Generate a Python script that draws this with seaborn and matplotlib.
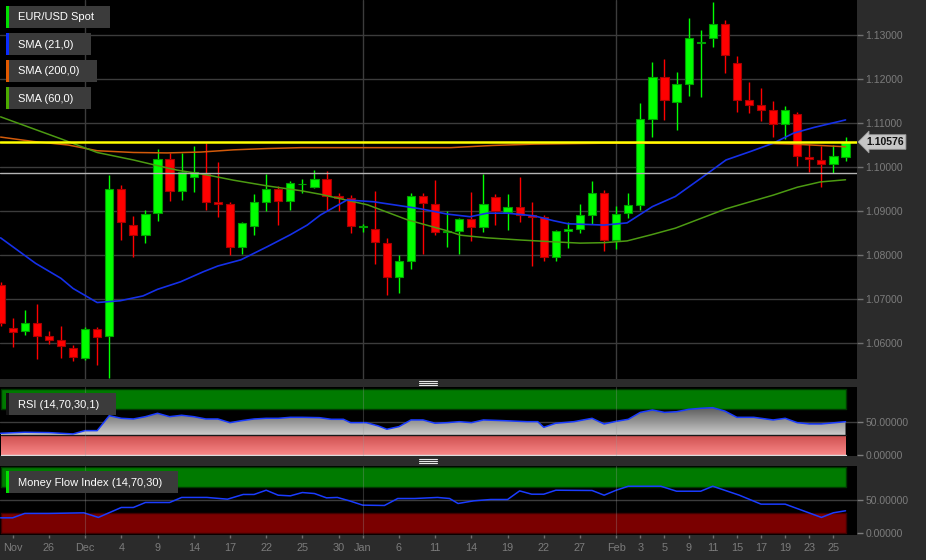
import numpy as np
import pandas as pd
import matplotlib
matplotlib.use("Agg")
import matplotlib.pyplot as plt
import seaborn as sns
from matplotlib.patches import Rectangle
from matplotlib.lines import Line2D
from matplotlib.colors import LinearSegmentedColormap

# EUR/USD daily candles, Nov 20 2015 .. Feb 26 2016 (one entry per trading day)
opens = [1.0732, 1.0634, 1.0627, 1.0645, 1.0616, 1.0606, 1.0588, 1.0567, 1.0631, 1.0617,
         1.0949, 1.0868, 1.0846, 1.0895, 1.1018, 1.0946, 1.0978, 1.0983, 1.0920, 1.0917,
         1.0818, 1.0867, 1.0921, 1.0950, 1.0923, 1.0961, 1.0954, 1.0972, 1.0934, 1.0929,
         1.0864, 1.0859, 1.0828, 1.0749, 1.0787, 1.0933, 1.0917, 1.0852, 1.0855, 1.0881,
         1.0864, 1.0931, 1.0898, 1.0910, 1.0890, 1.0886, 1.0795, 1.0855, 1.0858, 1.0890,
         1.0940, 1.0834, 1.0895, 1.0914, 1.1108, 1.1205, 1.1148, 1.1189, 1.1281, 1.1294,
         1.1324, 1.1237, 1.1152, 1.1141, 1.1129, 1.1098, 1.1121, 1.1023, 1.1017, 1.1006,
         1.1023]
highs = [1.0739, 1.0656, 1.0675, 1.0689, 1.0627, 1.0639, 1.0596, 1.0636, 1.0636, 1.0982,
         1.0959, 1.0889, 1.0902, 1.1042, 1.1031, 1.1031, 1.1048, 1.1055, 1.1012, 1.0920,
         1.0876, 1.0939, 1.0984, 1.0957, 1.0968, 1.0972, 1.0993, 1.0991, 1.0942, 1.0936,
         1.0870, 1.0945, 1.0838, 1.0800, 1.0942, 1.0942, 1.0970, 1.0900, 1.0885, 1.0944,
         1.0984, 1.0939, 1.0939, 1.0977, 1.0920, 1.0891, 1.0857, 1.0874, 1.0916, 1.0968,
         1.0948, 1.0911, 1.0942, 1.1146, 1.1239, 1.1245, 1.1216, 1.1339, 1.1311, 1.1376,
         1.1334, 1.1252, 1.1193, 1.1180, 1.1150, 1.1139, 1.1126, 1.1052, 1.1048, 1.1050,
         1.1069]
lows = [1.0639, 1.0592, 1.0618, 1.0564, 1.0598, 1.0567, 1.0558, 1.0561, 1.0550, 1.0521,
        1.0834, 1.0796, 1.0828, 1.0878, 1.0923, 1.0925, 1.0944, 1.0902, 1.0887, 1.0800,
        1.0802, 1.0845, 1.0900, 1.0868, 1.0902, 1.0942, 1.0953, 1.0900, 1.0900, 1.0851,
        1.0853, 1.0780, 1.0709, 1.0714, 1.0768, 1.0802, 1.0845, 1.0819, 1.0802, 1.0832,
        1.0853, 1.0868, 1.0857, 1.0876, 1.0776, 1.0787, 1.0787, 1.0817, 1.0849, 1.0870,
        1.0810, 1.0814, 1.0885, 1.0902, 1.1069, 1.1107, 1.1084, 1.1161, 1.1160, 1.1273,
        1.1213, 1.1126, 1.1123, 1.1105, 1.1069, 1.1063, 1.1003, 1.0989, 1.0955, 1.0987,
        1.1014]
closes = [1.0646, 1.0626, 1.0645, 1.0617, 1.0607, 1.0594, 1.0568, 1.0631, 1.0614, 1.0949,
          1.0874, 1.0846, 1.0893, 1.1018, 1.0946, 1.0988, 1.0988, 1.0921, 1.0917, 1.0818,
          1.0872, 1.0920, 1.0949, 1.0923, 1.0963, 1.0962, 1.0972, 1.0935, 1.0930, 1.0866,
          1.0865, 1.0829, 1.0751, 1.0786, 1.0933, 1.0919, 1.0852, 1.0854, 1.0882, 1.0864,
          1.0917, 1.0900, 1.0910, 1.0891, 1.0887, 1.0796, 1.0855, 1.0858, 1.0891, 1.0940,
          1.0834, 1.0893, 1.0914, 1.1109, 1.1204, 1.1152, 1.1189, 1.1293, 1.1283, 1.1325,
          1.1255, 1.1152, 1.1141, 1.1130, 1.1098, 1.1129, 1.1025, 1.1018, 1.1007, 1.1025,
          1.10576]

last_price = 1.10576
ref_level = 1.0987

# moving averages (day position, value)
sma21_x = [0, 2.9, 5, 6, 8, 9.9, 11.8, 13, 14.9, 16.8, 18, 19.9, 21, 22.1, 24, 25.4, 26.5,
           28.7, 30.9, 34.8, 37, 38.9, 40.3, 42, 44.2, 45.8, 47, 50, 51.9, 54, 55.9, 58,
           60.1, 62.1, 64, 65.7, 67.4, 70]
sma21_v = [1.0839, 1.0781, 1.0747, 1.0724, 1.0692, 1.0696, 1.0707, 1.0722, 1.0739, 1.0762,
           1.0775, 1.0789, 1.0804, 1.0819, 1.0846, 1.0868, 1.0891, 1.0925, 1.0921, 1.0905,
           1.0893, 1.0887, 1.0895, 1.0895, 1.0889, 1.0878, 1.0871, 1.0868, 1.0873, 1.0910,
           1.0933, 1.0974, 1.1016, 1.1035, 1.1054, 1.1077, 1.1090, 1.1107]
sma200_x = [0, 2.7, 5.6, 8, 11, 13.8, 16.6, 19.3, 22.1, 24.9, 37.3, 40.8, 44.2, 49.7, 63,
            65.7, 70]
sma200_v = [1.1068, 1.1058, 1.1050, 1.1037, 1.1033, 1.1032, 1.1034, 1.1039, 1.1042, 1.1044,
            1.1044, 1.1049, 1.1052, 1.1054, 1.1054, 1.1052, 1.1046]
sma60_x = [0, 2.5, 5, 8, 11, 12.7, 14.6, 17.1, 19.3, 22.1, 24.9, 26.5, 30.4, 33.7, 37,
           38.1, 40.3, 43.1, 45.8, 48, 50, 51.9, 53.9, 55.9, 58, 60.1, 62.1, 64, 66, 67.9, 70]
sma60_v = [1.1114, 1.1089, 1.1064, 1.1033, 1.1016, 1.1005, 1.0993, 1.0982, 1.0970, 1.0957,
           1.0946, 1.0938, 1.0914, 1.0880, 1.0855, 1.0845, 1.0839, 1.0834, 1.0830, 1.0827,
           1.0828, 1.0832, 1.0846, 1.0861, 1.0883, 1.0905, 1.0921, 1.0936, 1.0954, 1.0966,
           1.0971]

rsi_x = [0, 2, 4, 6, 7, 8, 9, 10, 11, 12, 13, 14, 15, 16, 17, 18, 19, 20, 21, 22, 23, 24,
         25, 26.4, 27.4, 28.4, 29, 30.3, 31.3, 32, 33, 34, 35, 36, 37, 38, 39, 40, 41.6,
         43.6, 44.5, 45, 46, 47.5, 49, 50, 51, 52, 53, 54, 55, 56, 57, 58, 59, 60, 61, 62.4,
         64, 65, 66, 67, 68, 70]
rsi_v = [33.3, 34.8, 34.3, 32.3, 37.3, 37.3, 60.0, 56.0, 55.0, 58.5, 63.6, 58.5, 60.6, 58.5,
         55.0, 55.0, 49.4, 52.5, 55.0, 56.0, 56.0, 57.5, 57.5, 57.0, 54.5, 54.5, 49.4, 49.4,
         44.4, 39.4, 43.4, 53.5, 53.5, 48.5, 49.4, 50.9, 49.4, 53.5, 52.5, 50.9, 50.9, 42.4,
         48.5, 50.9, 56.0, 47.4, 51.4, 54.5, 65.0, 68.6, 65.0, 66.0, 69.6, 71.2, 72.1, 67.0,
         57.5, 57.5, 53.5, 56.0, 49.4, 47.4, 47.4, 50.9]

mfi_x = [0, 1, 2, 4, 6.9, 8.1, 10, 11, 12, 14, 15, 17.1, 18.8, 20.1, 21, 22, 23, 24, 25, 26,
         27, 27.9, 28.9, 30, 31.8, 32.9, 34.3, 36.2, 37.2, 37.9, 39.2, 40.6, 42, 43, 44, 45,
         46, 49, 50, 51, 52, 54.7, 56, 58, 59, 61.2, 63, 65, 68, 69, 70]
mfi_v = [23.4, 23.4, 30.0, 30.0, 30.9, 24.0, 39.0, 39.0, 46.5, 46.5, 54.1, 54.1, 51.5, 58.6,
         58.6, 65.0, 57.5, 56.5, 61.5, 60.0, 53.5, 54.1, 49.0, 42.5, 42.0, 52.5, 52.5, 54.1,
         52.5, 45.0, 49.0, 51.0, 51.0, 64.0, 59.0, 59.0, 65.0, 64.6, 57.5, 65.0, 71.0, 71.0,
         63.5, 63.5, 71.0, 57.5, 44.0, 44.0, 24.0, 31.0, 34.0]

price_ticks = [1.06, 1.07, 1.08, 1.09, 1.10, 1.11, 1.12, 1.13]
tick_pos = [1, 4, 7, 10, 13, 16, 19, 22, 25, 28, 30, 33, 36, 39, 42, 45, 48, 51, 53, 55,
            57, 59, 61, 63, 65, 67, 69]
tick_labels = ['Nov', '26', 'Dec', '4', '9', '14', '17', '22', '25', '30', 'Jan', '6', '11',
               '14', '19', '22', '27', 'Feb', '3', '5', '9', '11', '15', '17', '19', '23', '25']
month_starts = [7, 30, 51]

sns.set_theme(style="dark")
plt.rcParams['font.family'] = ['Liberation Sans', 'DejaVu Sans']

W, H = 926, 560
BG = '#2b2b2b'
GRID = '#3c3c3c'
TXT = '#7c7c7c'


def fx(px):
    return px / W


def fy(py):
    return 1 - py / H


fig = plt.figure(figsize=(W / 100, H / 100), dpi=100, facecolor=BG)
ax = fig.add_axes([0, fy(379), fx(857), 379 / H])
ax_rsi = fig.add_axes([0, fy(456), fx(857), 69 / H])
ax_mfi = fig.add_axes([0, fy(535), fx(857), 69 / H])

df = pd.DataFrame({'open': opens, 'high': highs, 'low': lows, 'close': closes})
df['day'] = np.arange(len(df))
df['up'] = df['close'] >= df['open']

xlim = (-0.05, 70.95)

# ---- main price panel
ax.set_facecolor('black')
for lvl in price_ticks:
    ax.axhline(lvl, color=GRID, lw=1, zorder=0)
for m in month_starts:
    ax.axvline(m, color=GRID, lw=1, zorder=0)

for up, fc, ec in [(True, '#00ff00', '#00a000'), (False, '#ff0000', '#a80000')]:
    d = df[df['up'] == up]
    ax.vlines(d['day'], d['low'], d['high'], color=fc, lw=1.0, zorder=2)
    body = (d['close'] - d['open']).abs()
    ax.bar(d['day'], body, bottom=d[['open', 'close']].min(axis=1), width=0.68,
           color=fc, edgecolor=ec, linewidth=0.8, zorder=3)

sns.lineplot(x=sma200_x, y=sma200_v, ax=ax, color='#d25a0a', lw=1.1, zorder=4, legend=False)
sns.lineplot(x=sma60_x, y=sma60_v, ax=ax, color='#4c9a12', lw=1.1, zorder=4, legend=False)
sns.lineplot(x=sma21_x, y=sma21_v, ax=ax, color='#1530e8', lw=1.2, zorder=4, legend=False)
ax.axhline(ref_level, color='#b4b4b4', lw=1, zorder=4)
ax.axhline(last_price, color='#ffff00', lw=1.8, zorder=5)

ax.set_xlim(*xlim)
ax.set_ylim(1.13 - 344 / 4400, 1.13 + 35 / 4400)
ax.set_yticks(price_ticks)
ax.set_yticklabels([f'{v:.5f}' for v in price_ticks])
ax.yaxis.tick_right()
ax.tick_params(axis='y', colors=TXT, labelsize=7.5, length=4, width=1, pad=2, right=True)
ax.tick_params(axis='y', which='both', color='#707070')
ax.set_xticks([])
ax.set_xlabel('')
ax.set_ylabel('')
for s in ax.spines.values():
    s.set_visible(False)

# ---- indicator panels
def indicator(a, xs, vs, red, gradient):
    a.set_facecolor('black')
    a.axhline(50, color=GRID, lw=1, zorder=0)
    a.fill_between([0, 70], 70, 100, facecolor='#007a00', edgecolor='#003800', lw=1, zorder=1)
    if gradient:
        poly = a.fill_between(xs, vs, 30, facecolor='none', edgecolor='none')
        cm = LinearSegmentedColormap.from_list('g', ['#cdcdcd', '#4e4e4e'])
        im = a.imshow(np.linspace(0, 1, 256).reshape(-1, 1), extent=[0, 70, 30, 76],
                      origin='lower', cmap=cm, aspect='auto', zorder=2)
        im.set_clip_path(poly.get_paths()[0], transform=a.transData)
        cr = LinearSegmentedColormap.from_list('r', ['#f98787', '#cd4f4f'])
        a.imshow(np.linspace(0, 1, 256).reshape(-1, 1), extent=[0, 70, 0, 30],
                 origin='lower', cmap=cr, aspect='auto', zorder=2)
        a.plot([0, 70], [30, 30], color='#181818', lw=1, zorder=3)
        a.plot([0, 70], [0, 0], color='#dcdcdc', lw=1, zorder=3)
    else:
        a.fill_between([0, 70], 0, 30, facecolor=red, edgecolor='#400000', lw=1, zorder=1)
    sns.lineplot(x=xs, y=vs, ax=a, color='#1a3cff', lw=1.1, zorder=4, legend=False)
    for m in month_starts:
        a.axvline(m, color='#9a9a9a', lw=0.8, alpha=0.3, zorder=5)
    a.set_xlim(*xlim)
    a.set_yticks([0, 50])
    a.set_yticklabels(['0.00000', '50.00000'])
    a.yaxis.tick_right()
    a.tick_params(axis='y', colors=TXT, labelsize=7.5, length=4, width=1, pad=2, right=True)
    a.set_xlabel('')
    a.set_ylabel('')
    for s in a.spines.values():
        s.set_visible(False)


indicator(ax_rsi, rsi_x, rsi_v, None, True)
ax_rsi.set_ylim(-1.2, 103.5)
ax_rsi.set_xticks([])

indicator(ax_mfi, mfi_x, mfi_v, '#7a0000', False)
ax_mfi.set_ylim(-2.5, 101.5)
ax_mfi.set_xticks(tick_pos)
ax_mfi.set_xticklabels(tick_labels)
ax_mfi.tick_params(axis='x', colors=TXT, labelsize=7.8, length=2.5, width=1, pad=3, bottom=True)
ax_mfi.tick_params(axis='x', color='#707070')

# ---- legend boxes


def label_box(x0, y0, x1, y1, stripe, text):
    fig.add_artist(Rectangle((fx(x0), fy(y1)), (x1 - x0) / W, (y1 - y0) / H,
                             transform=fig.transFigure, fc='#3b3b3b', ec='none'))
    fig.add_artist(Rectangle((fx(x0), fy(y1)), 3 / W, (y1 - y0) / H,
                             transform=fig.transFigure, fc=stripe, ec='none'))
    fig.text(fx(18), fy((y0 + y1) / 2 + 0.5), text, color='white', fontsize=8,
             va='center', ha='left')


label_box(6, 6, 110, 28, '#00e000', 'EUR/USD Spot')
label_box(6, 33, 91, 55, '#0a2cff', 'SMA (21,0)')
label_box(6, 60, 97, 82, '#e25a00', 'SMA (200,0)')
label_box(6, 87, 91, 109, '#4caa00', 'SMA (60,0)')
label_box(6, 393, 116, 415, '#111111', 'RSI (14,70,30,1)')
label_box(6, 471, 178, 493, '#00e000', 'Money Flow Index (14,70,30)')

# current price tag
fig.text(fx(866), fy(142), f'{last_price:.5f}', color='#111111', fontsize=7.5,
         fontweight='bold', va='center', ha='left',
         bbox=dict(boxstyle='larrow,pad=0.22', fc='#c6c6c6', ec='#9a9a9a', lw=0.6))

# panel resize grips
for gy in (383, 461):
    for k in (-1.6, 0, 1.6):
        fig.add_artist(Line2D([fx(419), fx(437)], [fy(gy + k)] * 2, color='#e6e6e6',
                              lw=0.8, transform=fig.transFigure))

fig.savefig('out.png', dpi=100, facecolor=BG)
